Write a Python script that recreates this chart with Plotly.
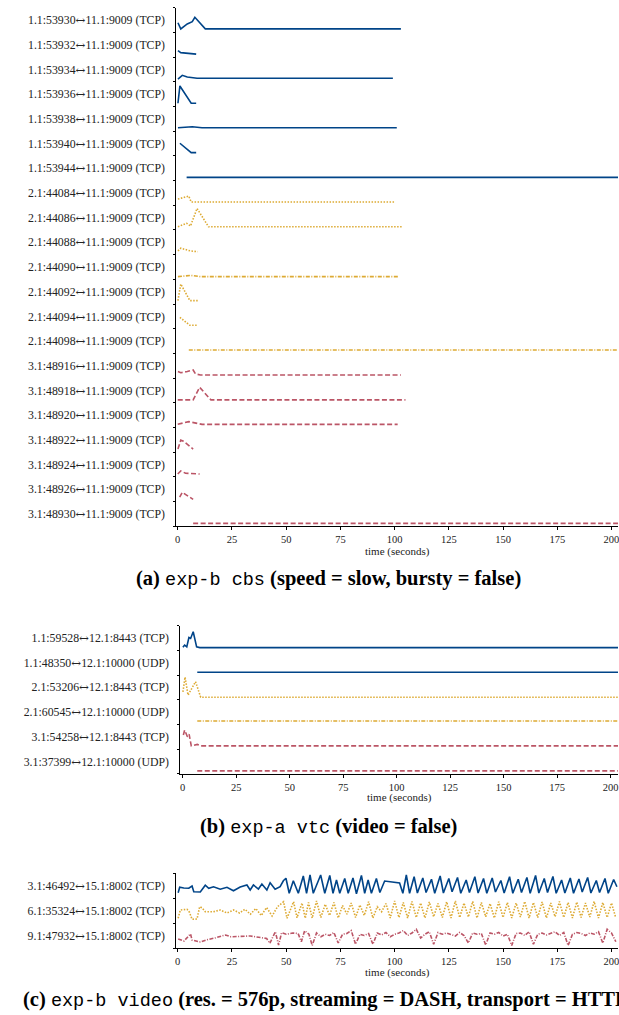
import plotly.graph_objects as go

# ---------------- (a) exp-b cbs ----------------
a_labels = [
    "1.1:53930↔11.1:9009 (TCP)", "1.1:53932↔11.1:9009 (TCP)", "1.1:53934↔11.1:9009 (TCP)",
    "1.1:53936↔11.1:9009 (TCP)", "1.1:53938↔11.1:9009 (TCP)", "1.1:53940↔11.1:9009 (TCP)",
    "1.1:53944↔11.1:9009 (TCP)",
    "2.1:44084↔11.1:9009 (TCP)", "2.1:44086↔11.1:9009 (TCP)", "2.1:44088↔11.1:9009 (TCP)",
    "2.1:44090↔11.1:9009 (TCP)", "2.1:44092↔11.1:9009 (TCP)", "2.1:44094↔11.1:9009 (TCP)",
    "2.1:44098↔11.1:9009 (TCP)",
    "3.1:48916↔11.1:9009 (TCP)", "3.1:48918↔11.1:9009 (TCP)", "3.1:48920↔11.1:9009 (TCP)",
    "3.1:48922↔11.1:9009 (TCP)", "3.1:48924↔11.1:9009 (TCP)", "3.1:48926↔11.1:9009 (TCP)",
    "3.1:48930↔11.1:9009 (TCP)",
]
a_times = [
    [0.1, 1.4, 4.4, 6.7, 7.9, 12.7, 102.9],
    [0.1, 1.4, 8.5],
    [0.1, 2.1, 4.4, 8.9, 99.2],
    [0.1, 1.0, 6.2, 8.5],
    [0.1, 6.7, 11.2, 101.0],
    [1.0, 6.2, 8.5],
    [4.1, 205.0],
    [0.1, 3.6, 5.1, 6.2, 99.9],
    [0.1, 4.1, 5.9, 8.9, 14.2, 103.9],
    [0.1, 1.4, 5.9, 9.2],
    [0.1, 5.9, 10.5, 102.1],
    [0.1, 1.4, 5.6, 9.2],
    [1.0, 5.6, 9.2],
    [5.1, 205.0],
    [0.1, 1.4, 4.4, 7.1, 8.2, 10.5, 102.9],
    [0.0, 7.1, 10.1, 15.3, 105.0],
    [0.0, 5.1, 11.2, 101.4],
    [0.1, 1.4, 2.6, 7.1],
    [0.0, 1.4, 3.6, 10.1],
    [0.9, 2.1, 7.1],
    [7.1, 205.0],
]
a_values = [
    [0.39, 0.14, 0.34, 0.43, 0.61, 0.14, 0.14],
    [0.26, 0.18, 0.12],
    [0.11, 0.26, 0.19, 0.14, 0.14],
    [0.13, 0.83, 0.13, 0.13],
    [0.14, 0.18, 0.14, 0.14],
    [0.51, 0.13, 0.13],
    [0.13, 0.13],
    [0.25, 0.32, 0.37, 0.13, 0.13],
    [0.13, 0.27, 0.16, 0.87, 0.13, 0.13],
    [0.15, 0.26, 0.15, 0.12],
    [0.11, 0.16, 0.11, 0.11],
    [0.14, 0.81, 0.14, 0.14],
    [0.46, 0.14, 0.14],
    [0.14, 0.14],
    [0.27, 0.22, 0.27, 0.33, 0.17, 0.13, 0.13],
    [0.12, 0.12, 0.63, 0.12, 0.12],
    [0.13, 0.24, 0.13, 0.13],
    [0.13, 0.49, 0.45, 0.13],
    [0.12, 0.24, 0.15, 0.12],
    [0.18, 0.38, 0.09],
    [0.12, 0.12],
]

# ---------------- (b) exp-a vtc ----------------
b_labels = [
    "1.1:59528↔12.1:8443 (TCP)", "1.1:48350↔12.1:10000 (UDP)",
    "2.1:53206↔12.1:8443 (TCP)", "2.1:60545↔12.1:10000 (UDP)",
    "3.1:54258↔12.1:8443 (TCP)", "3.1:37399↔12.1:10000 (UDP)",
]
b_times = [
    [0.1, 0.9, 1.9, 2.9, 3.7, 4.9, 6.5, 8.0, 205.0],
    [6.8, 205.0],
    [0.1, 1.1, 2.5, 4.5, 6.0, 8.4, 205.0],
    [6.8, 205.0],
    [0.3, 0.9, 2.2, 3.0, 4.0, 6.8, 8.4, 205.0],
    [6.8, 205.0],
]
b_values = [
    [0.12, 0.21, 0.14, 0.52, 0.48, 0.75, 0.14, 0.11, 0.11],
    [0.11, 0.11],
    [0.32, 0.91, 0.19, 0.53, 0.73, 0.10, 0.10],
    [0.14, 0.14],
    [0.57, 0.77, 0.50, 0.60, 0.13, 0.19, 0.13, 0.13],
    [0.12, 0.12],
]

# ---------------- (c) exp-b video ----------------
c_labels = [
    "3.1:46492↔15.1:8002 (TCP)", "6.1:35324↔15.1:8002 (TCP)", "9.1:47932↔15.1:8002 (TCP)",
]
c_times = [
    [0.2, 0.9, 2.8, 5.1, 6.6, 7.4, 10.4, 12.7, 14.3, 16.5, 19.6, 22.7, 25.7, 28.8, 31.9, 33.4,
     34.9, 37.2, 38.8, 41.1, 42.6, 44.9, 47.2, 48.7, 49.9, 51.4, 53.3, 55.6, 57.9, 59.4, 61.0,
     62.5, 65.9, 67.8, 70.1, 71.6, 73.2, 74.7, 77.0, 78.6, 80.8, 82.4, 84.7, 86.2, 87.8, 89.3,
     91.6, 93.2, 95.4, 102.3, 103.8, 105.4, 106.9, 109.0, 110.5, 113.0, 114.5, 117.0, 118.5,
     121.0, 122.5, 125.0, 126.5, 129.0, 130.5, 133.0, 134.5, 137.0, 138.5, 141.0, 142.5, 145.0,
     146.5, 149.0, 150.5, 153.0, 154.5, 157.0, 158.5, 161.0, 162.5, 165.0, 166.5, 169.0, 170.5,
     173.0, 174.5, 177.0, 178.5, 181.0, 182.5, 185.0, 186.5, 189.0, 190.5, 193.0, 194.5, 197.0,
     198.5, 201.0, 202.5],
    [0.2, 1.2, 4.3, 5.4, 6.6, 8.9, 10.1, 11.2, 12.7, 16.4, 19.6, 22.7, 25.8, 28.5, 31.0, 33.5,
     36.0, 38.5, 41.0, 43.5, 46.0, 48.8, 50.4, 53.4, 55.0, 57.3, 58.8, 60.3, 62.0, 64.0, 66.0,
     68.0, 70.0, 72.0, 74.0, 76.0, 78.0, 80.0, 82.0, 84.0, 86.0, 88.0, 90.0, 92.0, 94.0, 96.0,
     98.0, 100.0, 102.0, 104.0, 106.0, 108.0, 110.0, 112.0, 114.0, 116.0, 118.0, 120.0, 122.0,
     124.0, 126.0, 128.0, 130.0, 132.0, 134.0, 136.0, 138.0, 140.0, 142.0, 144.0, 146.0, 148.0,
     150.0, 152.0, 154.0, 156.0, 158.0, 160.0, 162.0, 164.0, 166.0, 168.0, 170.0, 172.0, 174.0,
     176.0, 178.0, 180.0, 182.0, 184.0, 186.0, 188.0, 190.0, 192.0, 194.0, 196.0, 198.0, 200.0,
     202.0],
    [0.2, 2.9, 5.9, 6.6, 10.4, 13.5, 17.5, 22.0, 24.4, 26.0, 33.5, 41.0, 42.5, 45.0, 46.5, 47.9,
     50.0, 53.0, 55.5, 57.0, 58.5, 60.5, 62.0, 64.0, 66.0, 68.0, 70.0, 72.0, 74.0, 76.0, 78.0,
     80.0, 82.0, 84.0, 86.0, 88.0, 90.0, 92.0, 94.0, 96.0, 98.0, 100.0, 102.0, 104.0, 106.0,
     108.0, 110.0, 112.0, 114.0, 116.0, 118.0, 120.0, 122.0, 124.0, 126.0, 128.0, 130.0, 132.0,
     134.0, 136.0, 138.0, 140.0, 142.0, 144.0, 146.0, 148.0, 150.0, 152.0, 154.0, 156.0, 158.0,
     160.0, 162.0, 164.0, 166.0, 168.0, 170.0, 172.0, 174.0, 176.0, 178.0, 180.0, 182.0, 184.0,
     186.0, 188.0, 190.0, 192.0, 194.0, 196.0, 198.0, 200.0, 202.0],
]
c_values = [
    [0.21, 0.43, 0.40, 0.39, 0.48, 0.25, 0.24, 0.51, 0.39, 0.45, 0.35, 0.43, 0.29, 0.44, 0.52,
     0.32, 0.52, 0.36, 0.56, 0.32, 0.61, 0.35, 0.45, 0.69, 0.79, 0.19, 0.69, 0.19, 0.88, 0.19,
     0.92, 0.19, 0.92, 0.19, 0.90, 0.19, 0.72, 0.19, 0.78, 0.19, 0.80, 0.17, 0.90, 0.19, 0.72,
     0.19, 0.78, 0.22, 0.68, 0.60, 0.19, 0.92, 0.19, 0.85, 0.20, 0.80, 0.22, 0.75, 0.19, 0.88,
     0.20, 0.78, 0.25, 0.82, 0.19, 0.72, 0.22, 0.85, 0.20, 0.78, 0.19, 0.80, 0.24, 0.70, 0.20,
     0.85, 0.19, 0.75, 0.22, 0.82, 0.19, 0.90, 0.20, 0.78, 0.22, 0.86, 0.19, 0.72, 0.20, 0.80,
     0.19, 0.76, 0.24, 0.82, 0.20, 0.70, 0.22, 0.78, 0.19, 0.74, 0.45],
    [0.19, 0.52, 0.55, 0.43, 0.15, 0.16, 0.65, 0.61, 0.45, 0.45, 0.52, 0.40, 0.52, 0.40, 0.55,
     0.35, 0.58, 0.30, 0.62, 0.28, 0.65, 0.85, 0.19, 0.85, 0.21, 0.80, 0.19, 0.82, 0.20, 0.88,
     0.22, 0.75, 0.30, 0.82, 0.20, 0.70, 0.35, 0.80, 0.22, 0.72, 0.30, 0.85, 0.20, 0.65, 0.45,
     0.78, 0.20, 0.88, 0.22, 0.82, 0.20, 0.86, 0.22, 0.80, 0.20, 0.84, 0.25, 0.78, 0.22, 0.85,
     0.20, 0.88, 0.22, 0.80, 0.24, 0.86, 0.20, 0.82, 0.25, 0.78, 0.20, 0.85, 0.22, 0.82, 0.20,
     0.80, 0.24, 0.86, 0.20, 0.82, 0.22, 0.84, 0.20, 0.80, 0.25, 0.86, 0.22, 0.82, 0.20, 0.84,
     0.22, 0.80, 0.24, 0.86, 0.20, 0.82, 0.22, 0.80, 0.20],
    [0.36, 0.28, 0.56, 0.32, 0.24, 0.33, 0.41, 0.52, 0.45, 0.45, 0.48, 0.38, 0.19, 0.65, 0.12,
     0.61, 0.55, 0.60, 0.58, 0.25, 0.69, 0.55, 0.10, 0.60, 0.45, 0.55, 0.50, 0.62, 0.20, 0.55,
     0.58, 0.70, 0.15, 0.55, 0.50, 0.58, 0.15, 0.60, 0.52, 0.62, 0.45, 0.55, 0.60, 0.70, 0.50,
     0.60, 0.75, 0.40, 0.55, 0.65, 0.15, 0.62, 0.55, 0.60, 0.55, 0.48, 0.62, 0.50, 0.20, 0.60,
     0.55, 0.58, 0.12, 0.60, 0.55, 0.62, 0.48, 0.55, 0.10, 0.58, 0.60, 0.50, 0.65, 0.15, 0.55,
     0.60, 0.52, 0.58, 0.65, 0.50, 0.62, 0.10, 0.55, 0.62, 0.58, 0.50, 0.60, 0.55, 0.65, 0.20,
     0.75, 0.60, 0.25],
]

# ---------------- styles ----------------
BLUE, GOLD, RED = "#004488", "#DDAA33", "#BB5566"
DOT, DASH, DASHDOT = "1.5px,1.5px", "5px,2.5px", "4px,1.5px,1px,1.5px"
a_styles = ([(BLUE, "solid")] * 7 +
            [(GOLD, DOT), (GOLD, DOT), (GOLD, DOT), (GOLD, DASHDOT), (GOLD, DOT), (GOLD, DOT), (GOLD, DASHDOT)] +
            [(RED, DASH)] * 7)
b_styles = [(BLUE, "solid"), (BLUE, "solid"), (GOLD, DOT), (GOLD, DASHDOT), (RED, DASH), (RED, DASH)]
c_styles = [(BLUE, "solid"), (GOLD, DOT), (RED, DASHDOT)]

W, H = 619, 1015
SERIF = "Liberation Serif"
ARROW = "<span style=\"font-family:DejaVu Serif\">↔</span>"

fig = go.Figure()

panels = [
    # labels, times, values, styles, axis suffix, x-range, y px top, y px bottom, x px left
    (a_labels, a_times, a_values, a_styles, "", [-0.6, 203.0], 7.65, 526.35, 176),
    (b_labels, b_times, b_values, b_styles, "2", [-1.07, 203.4], 625.6, 773.8, 180),
    (c_labels, c_times, c_values, c_styles, "3", [-0.6, 203.0], 873.0, 948.0, 176),
]

layout = {}
for labels, times, values, styles, sfx, xr, ytop, ybot, xleft in panels:
    n = len(labels)
    for i in range(n):
        col, dash = styles[i]
        base = n - 1 - i
        fig.add_trace(go.Scatter(
            x=times[i], y=[base + v for v in values[i]],
            mode="lines", line=dict(color=col, width=1.6, dash=dash),
            xaxis="x" + sfx, yaxis="y" + sfx, showlegend=False, hoverinfo="skip",
        ))
    layout["xaxis" + sfx] = dict(
        domain=[xleft / W, 1.0], range=xr, anchor="y" + sfx,
        showline=True, linecolor="black", linewidth=1.2, mirror=False,
        ticks="outside", ticklen=3, tickwidth=1, tickcolor="black",
        tickvals=[0, 25, 50, 75, 100, 125, 150, 175, 200],
        ticklabeloverflow="allow",
        tickfont=dict(family=SERIF, size=10.5, color="#222"),
        showgrid=False, zeroline=False, fixedrange=True,
    )
    layout["yaxis" + sfx] = dict(
        domain=[1 - ybot / H, 1 - ytop / H], range=[0, n], anchor="x" + sfx,
        showline=True, linecolor="black", linewidth=1.2,
        tickmode="array", tickvals=[k + 0.5 for k in range(n)],
        ticktext=[lab.replace("↔", ARROW) for lab in reversed(labels)],
        ticks="outside", ticklen=8, tickcolor="rgba(0,0,0,0)",
        minor=dict(tickmode="array", tickvals=list(range(n + 1)), ticks="outside",
                   ticklen=2.5, tickcolor="black", tickwidth=1),
        tickfont=dict(family=SERIF, size=11.8, color="#222"),
        showgrid=False, zeroline=False, fixedrange=True,
    )

def cap(a, mono, rest):
    return ("<b>" + a + "</b> <span style=\"font-family:Liberation Mono;font-size:18.5px\">" + mono +
            "</span> <b>" + rest + "</b>")

annotations = [
    dict(text="time (seconds)", x=398 / W, y=1 - 551 / H),
    dict(text="time (seconds)", x=400 / W, y=1 - 797 / H),
    dict(text="time (seconds)", x=398 / W, y=1 - 972 / H),
]
for a in annotations:
    a.update(xref="paper", yref="paper", showarrow=False, xanchor="center", yanchor="middle",
             font=dict(family=SERIF, size=11, color="#222"))

captions = [
    (cap("(a)", "exp-b cbs", "(speed = slow, bursty = false)"), 579),
    (cap("(b)", "exp-a vtc", "(video = false)"), 827),
    (cap("(c)", "exp-b video", "(res. = 576p, streaming = DASH, transport = HTTP)"), 1000),
]
for text, ypx in captions:
    annotations.append(dict(text=text, x=329 / W, y=1 - ypx / H, xref="paper", yref="paper",
                            showarrow=False, xanchor="center", yanchor="middle",
                            font=dict(family=SERIF, size=20.5, color="black")))

fig.update_layout(
    width=W, height=H, margin=dict(l=0, r=0, t=0, b=0),
    paper_bgcolor="white", plot_bgcolor="white",
    annotations=annotations, **layout,
)

fig.write_html("out.html", config={"displayModeBar": False},
               post_script="document.body.style.margin='0px';document.body.style.overflow='hidden';")
